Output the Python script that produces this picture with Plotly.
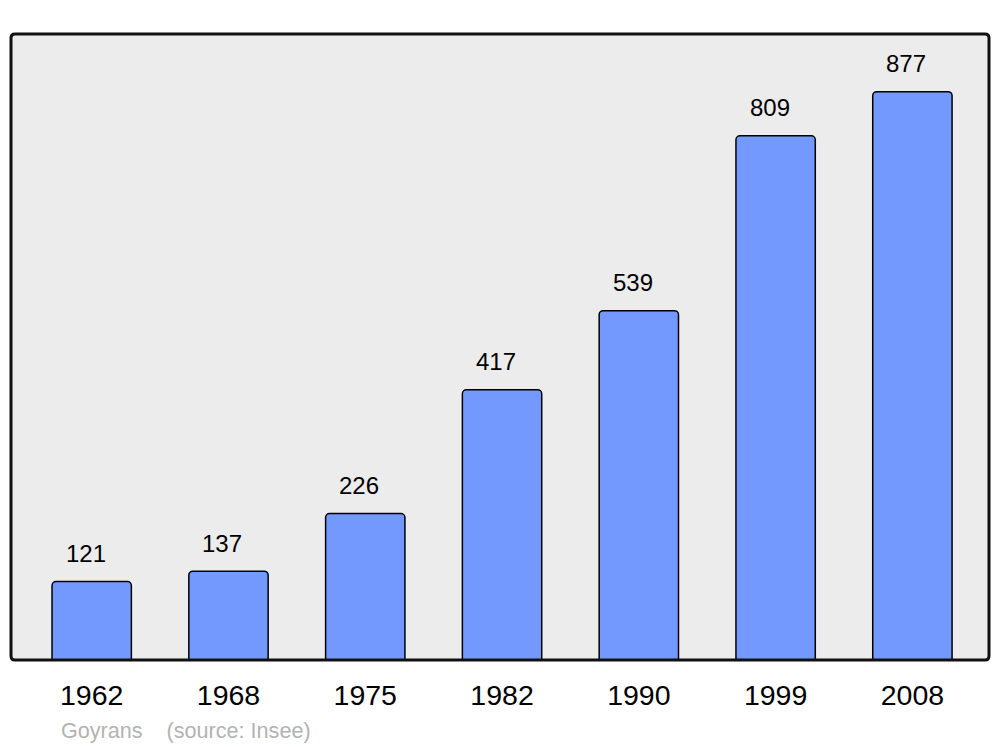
import plotly.graph_objects as go

years = ["1962", "1968", "1975", "1982", "1990", "1999", "2008"]
population = [121, 137, 226, 417, 539, 809, 877]
footer_text = "Goyrans    (source: Insee)"

OFF = 8  # default page body margin
W, H = 1000 - OFF, 747 - OFF
L, R, T, B = 11 - OFF, 11, 34 - OFF, 87
pw, ph = W - L - R, H - T - B

fig = go.Figure()
fig.add_trace(go.Bar(
    x=years, y=population, width=0.58,
    marker=dict(color="#7399ff", line=dict(color="#000000", width=1.5), cornerradius=4),
    hoverinfo="x+y",
))

# category axis: annotations use the category serial number
for i, v in enumerate(population):
    fig.add_annotation(x=i, y=v, text=str(v), showarrow=False, yanchor="middle",
                       xanchor="center", yshift=28, xshift=-6,
                       font=dict(family="Liberation Sans, Arial", size=24, color="#000000"))

fig.add_annotation(xref="paper", yref="paper", x=(59 - 11) / pw, y=(660 - 730) / ph,
                   xanchor="left", yanchor="middle", text=footer_text, showarrow=False,
                   font=dict(family="Liberation Sans, Arial", size=21.6, color="#b3b3b3"))

# rounded frame in paper coords
r = 4
rx, ry = r / pw, r / ph
path = (f"M {rx},0 L {1-rx},0 Q 1,0 1,{ry} L 1,{1-ry} Q 1,1 {1-rx},1 "
        f"L {rx},1 Q 0,1 0,{1-ry} L 0,{ry} Q 0,0 {rx},0 Z")
fig.add_shape(type="path", xref="paper", yref="paper", path=path,
              line=dict(color="#111111", width=3), layer="above")

fig.update_layout(
    width=W, height=H,
    margin=dict(l=L, r=R, t=T, b=B),
    paper_bgcolor="#ffffff", plot_bgcolor="#ececec",
    showlegend=False,
    xaxis=dict(type="category", range=[-0.59, 6.56], showgrid=False, zeroline=False, showline=False,
               ticks="outside", ticklen=10, tickcolor="rgba(0,0,0,0)",
               tickfont=dict(family="Liberation Sans, Arial", size=28.5, color="#000000")),
    yaxis=dict(range=[0, 966], showgrid=False, zeroline=False, showline=False,
               showticklabels=False, ticks=""),
)

fig.write_html("out.html")
